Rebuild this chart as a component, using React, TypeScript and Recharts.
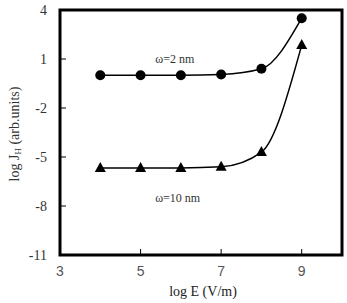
import { LineChart, Line, XAxis, YAxis, ReferenceArea, ReferenceDot } from 'recharts';

// log E values and the two current curves
const logE = [4, 5, 6, 7, 8, 9];
const w2nm = [0.0, 0.0, 0.0, 0.05, 0.4, 3.5];
const w10nm = [-5.67, -5.67, -5.67, -5.6, -4.7, 1.85];

const xTicks = [3, 5, 7, 9];
const yTicks = [-11, -8, -5, -2, 1, 4];

const data = logE.map((e, i) => ({ e, w2: w2nm[i], w10: w10nm[i] }));

const SERIF = '"Liberation Serif", "Times New Roman", serif';

function YTick(props: any) {
  const { x, y, payload } = props;
  return (
    <g>
      <text x={x} y={y} dy="0.35em" textAnchor="end" style={{ fontFamily: SERIF }} fontSize={14} fill="#333">
        {payload.value}
      </text>
      {payload.value !== 4 && payload.value !== -11 && (
        <line x1={x + 13} x2={x + 19} y1={y} y2={y} stroke="#000" strokeWidth={1} />
      )}
    </g>
  );
}

function XTick(props: any) {
  const { x, y, payload } = props;
  return (
    <g>
      <text x={x} y={y} dy="0.71em" textAnchor="middle" style={{ fontFamily: '"Liberation Sans", Arial, sans-serif' }} fontSize={14} fill="#555">
        {payload.value}
      </text>
      {payload.value !== 3 && (
        <line x1={x} x2={x} y1={y - 11} y2={y - 17} stroke="#000" strokeWidth={1} />
      )}
    </g>
  );
}

function Triangle(props: any) {
  const { cx, cy } = props;
  if (cx == null || cy == null) return null;
  return <polygon points={`${cx},${cy - 6} ${cx - 5.5},${cy + 4} ${cx + 5.5},${cy + 4}`} fill="#000" />;
}

function YLabel() {
  const cx = 14;
  const cy = 134;
  return (
    <text
      x={cx}
      y={cy}
      transform={`rotate(-90 ${cx} ${cy})`}
      textAnchor="middle"
      dominantBaseline="central"
      style={{ fontFamily: SERIF }}
      fontSize={14}
      fill="#333"
    >
      log J<tspan fontSize={9} dy={4}>H</tspan>
      <tspan dy={-4}> (arb.units)</tspan>
    </text>
  );
}

function XLabel() {
  return (
    <text x={203} y={296} textAnchor="middle" style={{ fontFamily: SERIF }} fontSize={14} fill="#222">
      log E (V/m)
    </text>
  );
}

export default function App() {
  return (
    <div style={{ position: 'absolute', left: 0, top: 0, background: '#fff' }}>
      <LineChart width={347} height={303} data={data} margin={{ top: 10, right: 5, bottom: 0, left: 0 }}>
        <XAxis
          dataKey="e"
          type="number"
          domain={[3, 10]}
          ticks={xTicks}
          axisLine={false}
          tickLine={false}
          tickSize={11}
          tickMargin={0}
          tick={<XTick />}
          height={48}
          label={<XLabel />}
        />
        <YAxis
          type="number"
          domain={[-11, 4]}
          ticks={yTicks}
          axisLine={false}
          tickLine={false}
          tickSize={13}
          tickMargin={0}
          tick={<YTick />}
          width={60}
          label={<YLabel />}
        />
        <ReferenceArea x1={3} x2={10} y1={-11} y2={4} fill="none" stroke="#000" strokeWidth={3} />
        <Line
          type="monotone"
          dataKey="w2"
          stroke="#000"
          strokeWidth={1.5}
          dot={{ r: 5, fill: '#000', stroke: '#000', strokeWidth: 0 }}
          isAnimationActive={false}
        />
        <Line
          type="monotone"
          dataKey="w10"
          stroke="#000"
          strokeWidth={1.5}
          dot={<Triangle />}
          isAnimationActive={false}
        />
        <ReferenceDot
          x={5.85}
          y={1.0}
          r={0}
          label={{ value: 'ω=2 nm', position: 'center', style: { fontFamily: SERIF, fontSize: 12, fill: '#333' } }}
        />
        <ReferenceDot
          x={5.92}
          y={-7.5}
          r={0}
          label={{ value: 'ω=10 nm', position: 'center', style: { fontFamily: SERIF, fontSize: 12, fill: '#333' } }}
        />
      </LineChart>
    </div>
  );
}
